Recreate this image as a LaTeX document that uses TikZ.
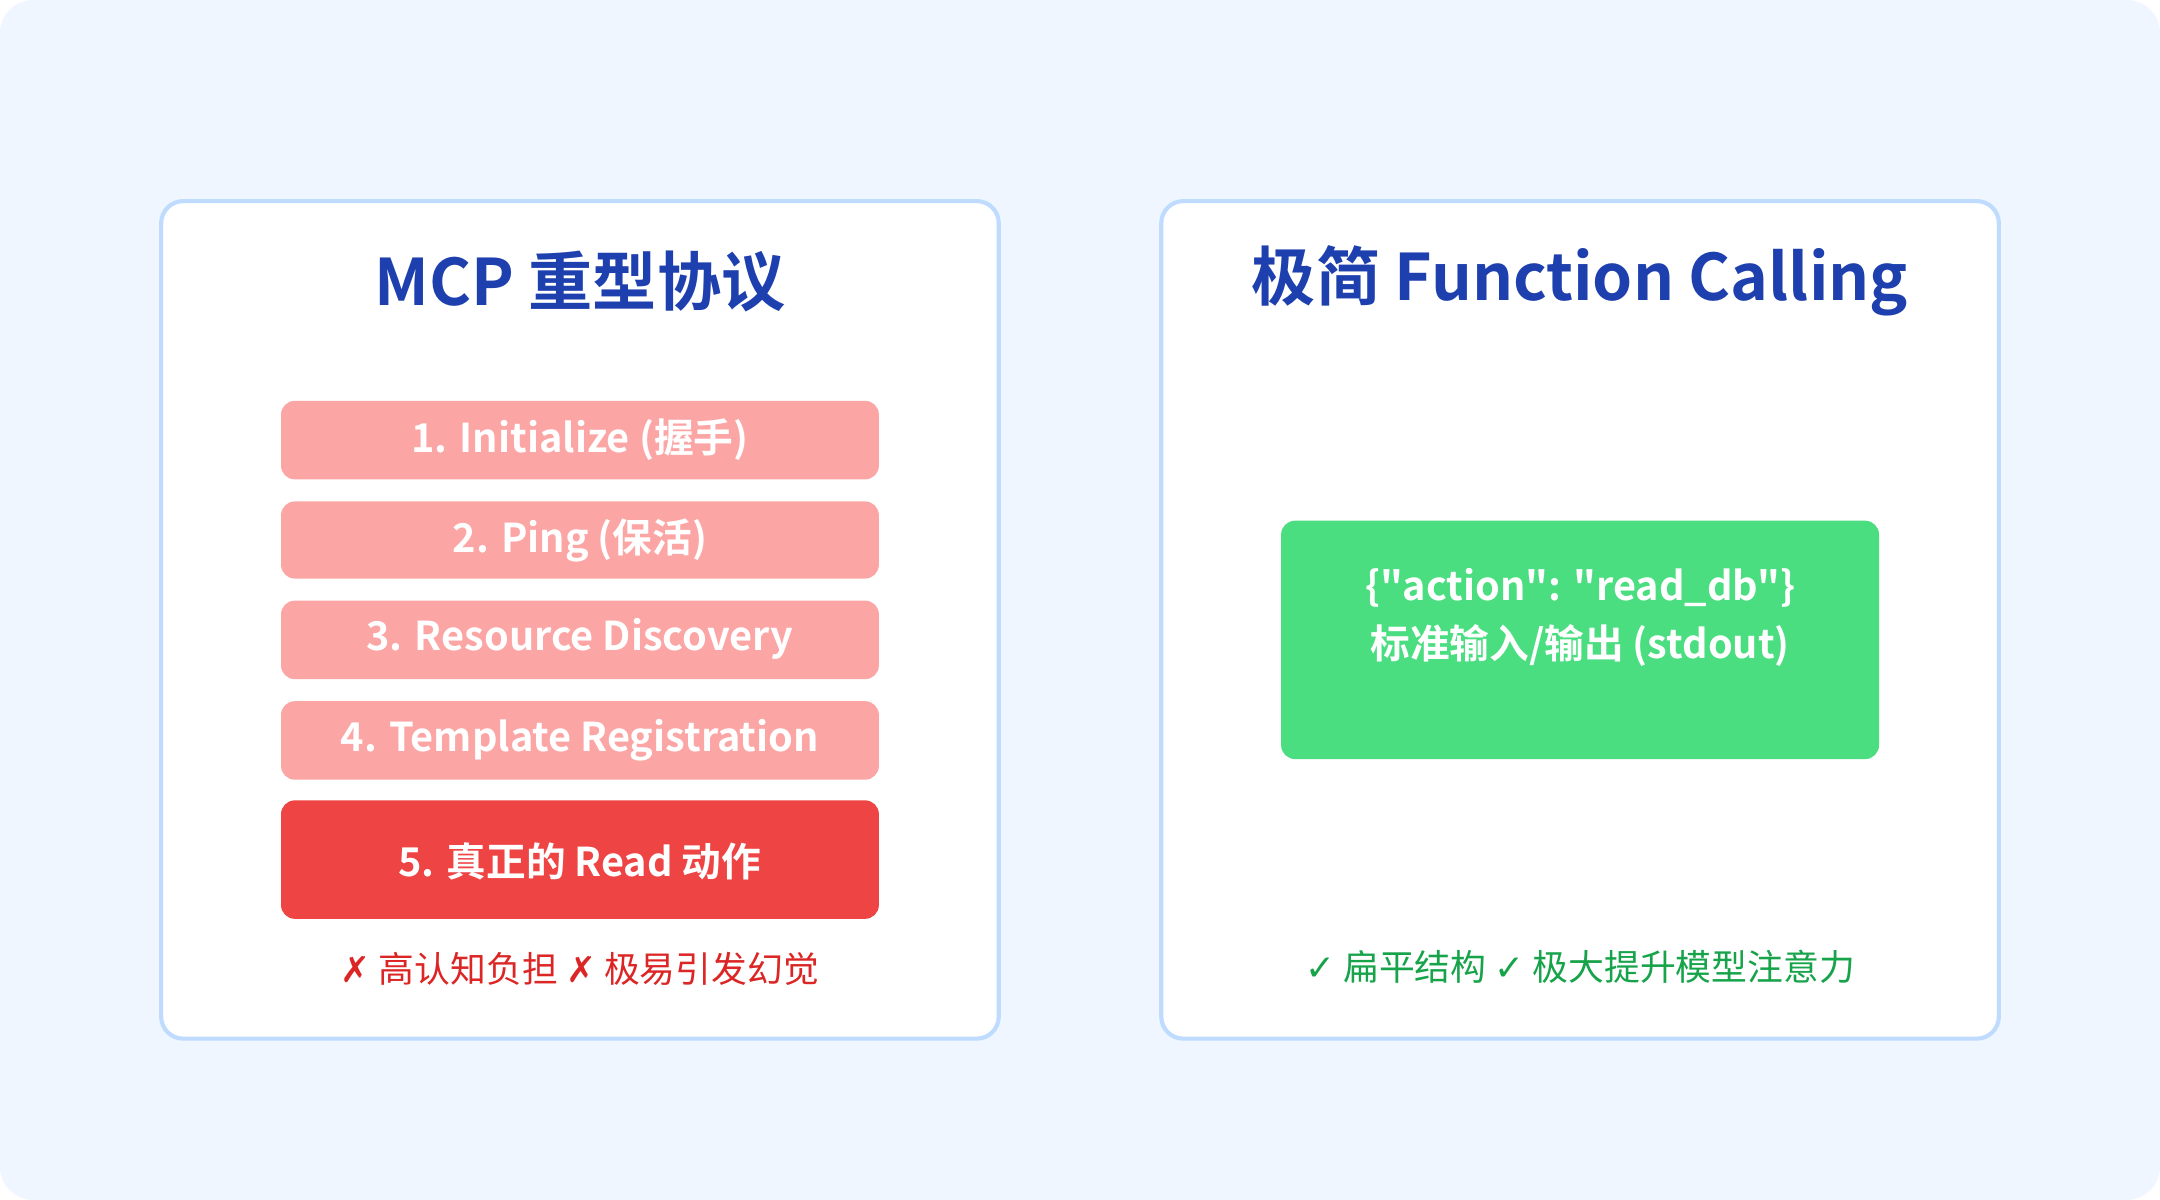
\documentclass[tikz,border=0pt]{standalone}
\usepackage{fontspec}
\setmainfont{Noto Sans CJK SC}
\newfontfamily\cjkb{Noto Sans CJK SC Bold}
\newfontfamily\symf{DejaVu Sans}
\definecolor{bgc}{HTML}{EFF6FF}
\definecolor{bordc}{HTML}{BFDBFE}
\definecolor{titc}{HTML}{1E40AF}
\definecolor{pinkc}{HTML}{FCA5A5}
\definecolor{redc}{HTML}{EF4444}
\definecolor{redt}{HTML}{DC2626}
\definecolor{greenc}{HTML}{4ADE80}
\definecolor{greent}{HTML}{16A34A}
\begin{document}
\begin{tikzpicture}[x=0.5pt,y=-0.5pt,
  panel/.style={draw=bordc,line width=1.5pt,fill=white,rounded corners=8pt},
  stepbox/.style={fill=pinkc,rounded corners=5pt},
  lbl/.style={text=white,font=\cjkb\fontsize{14.4pt}{17pt}\selectfont},
  ttl/.style={text=titc,font=\cjkb\fontsize{23.3pt}{28pt}\selectfont},
  note/.style={font=\fontsize{13pt}{16pt}\selectfont}]
\useasboundingbox (0,0) rectangle (1568,871);
\fill[white] (0,0) rectangle (1568,871);
\fill[bgc,rounded corners=12pt] (0,0) rectangle (1568,871);
\draw[panel] (117,146) rectangle (725,754);
\draw[panel] (843,146) rectangle (1451,754);
\node[ttl] (t1) at (421,204) {MCP 重型协议};
\node[ttl] (t2) at (1147,204) {极简 Function Calling};
\fill[stepbox] (204,291) rectangle (638,348);
\node[lbl] (s1) at (421,319) {1. Initialize (握手)};
\fill[stepbox] (204,364) rectangle (638,420);
\node[lbl] (s2) at (421,392) {2. Ping (保活)};
\fill[stepbox] (204,436) rectangle (638,493);
\node[lbl] (s3) at (421,464) {3. Resource Discovery};
\fill[stepbox] (204,509) rectangle (638,566);
\node[lbl] (s4) at (421,537) {4. Template Registration};
\fill[redc,rounded corners=5pt] (204,581) rectangle (638,667);
\node[lbl] (s5) at (421,625) {5. 真正的 Read 动作};
\node[note,text=redt] (n1) at (421,703) {{\symf ✗} 高认知负担 {\symf ✗} 极易引发幻觉};
\fill[greenc,rounded corners=5pt] (930,378) rectangle (1364,551);
\node[lbl,align=center] (g) at (1147,448) {\{"action": "read\_db"\}\\[4pt]标准输入/输出 (stdout)};
\node[note,text=greent] (n2) at (1147,702) {{\symf ✓} 扁平结构 {\symf ✓} 极大提升模型注意力};
\end{tikzpicture}
\end{document}
